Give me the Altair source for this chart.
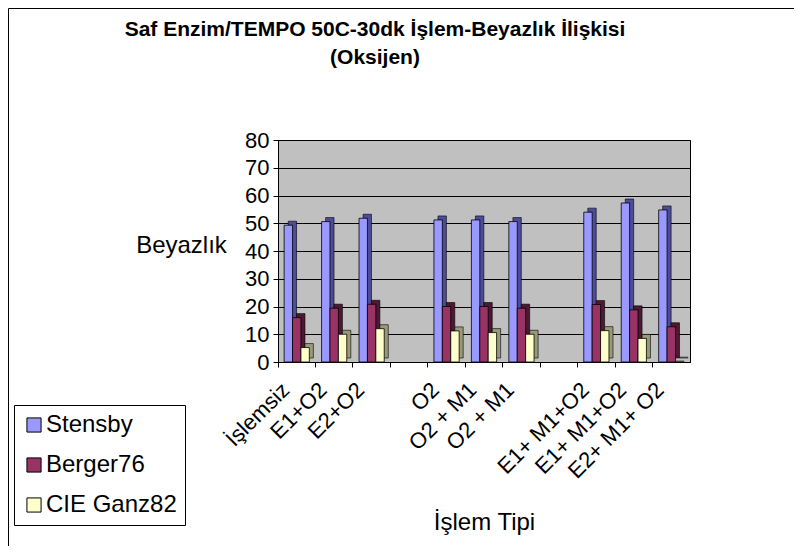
import json
import altair as alt
import pandas as pd

categories = ["İşlemsiz", "E1+O2", "E2+O2", "", "O2", "O2 + M1", "O2  + M1", "",
              "E1+ M1+O2", "E1+ M1+O2", "E2+ M1+ O2"]
series_names = ["Stensby", "Berger76", "CIE Ganz82"]
stensby = [49.3, 50.6, 51.8, None, 51.2, 51.2, 50.6, None, 54.0, 57.3, 54.8]
berger76 = [16.0, 19.4, 20.8, None, 20.0, 20.0, 19.4, None, 20.7, 18.8, 12.7]
cie_ganz82 = [5.2, 10.0, 12.0, None, 11.2, 10.6, 10.0, None, 11.3, 8.5, 0.3]
y_ticks = [0, 10, 20, 30, 40, 50, 60, 70, 80]

front_colors = ["#9999FF", "#993366", "#FFFFCC"]
side_colors = ["#4C4C99", "#4C1933", "#99997A"]

rows = []
for name, vals in zip(series_names, [stensby, berger76, cie_ganz82]):
    for i, v in enumerate(vals):
        if v is not None:
            rows.append({"idx": i, "series": name, "value": v})
df = pd.DataFrame(rows)

FONT = "Liberation Sans"
idx_domain = list(range(len(categories)))
label_expr = json.dumps(categories, ensure_ascii=False) + "[datum.value]"

x_enc = alt.X(
    "idx:O",
    scale=alt.Scale(domain=idx_domain, paddingInner=0, paddingOuter=0),
    axis=alt.Axis(
        title="İşlem Tipi", labelExpr=label_expr, labelAngle=-45, labelAlign="right",
        labelBaseline="middle", labelFontSize=22, labelFont=FONT, labelColor="black",
        labelPadding=19, labelOffset=-11, bandPosition=0, tickColor="black", tickSize=5,
        domainColor="black", grid=False, titleFont=FONT, titleFontSize=24,
        titleFontWeight="normal", titleColor="black", titleY=160, titleBaseline="middle",
        labelOverlap=False,
    ),
)
y_enc = alt.Y(
    "value:Q",
    scale=alt.Scale(domain=[0, 80], nice=False),
    axis=alt.Axis(
        title="Beyazlık", values=y_ticks, labelFontSize=22, labelFont=FONT,
        labelColor="black", tickColor="black", tickSize=5, domainColor="black",
        gridColor="black", gridWidth=1, titleAngle=0, titleX=-97, titleY=105,
        titleAlign="center", titleBaseline="middle", titleFont=FONT, titleFontSize=24,
        titleFontWeight="normal", titleColor="black", labelPadding=4,
    ),
)

base = alt.Chart(df)

side = base.mark_bar(yOffset=-4, stroke="black", strokeWidth=0.6).encode(
    x=x_enc,
    y=y_enc,
    xOffset=alt.XOffset("series:N", sort=series_names,
                        scale=alt.Scale(domain=series_names, paddingInner=0,
                                        paddingOuter=0.73, align=0.83)),
    color=alt.Color("series:N", sort=series_names,
                    scale=alt.Scale(domain=series_names, range=side_colors), legend=None),
)

front = base.mark_bar(stroke="black", strokeWidth=0.8).encode(
    x=x_enc,
    y=y_enc,
    xOffset=alt.XOffset("series:N", sort=series_names,
                        scale=alt.Scale(domain=series_names, paddingInner=0,
                                        paddingOuter=0.73, align=0.5)),
    fill=alt.Fill(
        "series:N", sort=series_names,
        scale=alt.Scale(domain=series_names, range=front_colors),
        legend=alt.Legend(
            title=None, orient="none", legendX=-264, legendY=265,
            strokeColor="black", fillColor="white", padding=8,
            labelFont=FONT, labelFontSize=24, labelColor="black",
            symbolType="square", symbolSize=200, symbolStrokeColor="black",
            symbolStrokeWidth=1, rowPadding=16, labelOffset=0,
            symbolOpacity=1,
        ),
    ),
)

one = pd.DataFrame({"a": [0]})
title1 = alt.Chart(one).mark_text(
    text="Saf Enzim/TEMPO 50C-30dk İşlem-Beyazlık İlişkisi", font=FONT, fontSize=21,
    fontWeight="bold", color="black", align="center", baseline="middle",
).encode(x=alt.value(97), y=alt.value(-110))
title2 = alt.Chart(one).mark_text(
    text="(Oksijen)", font=FONT, fontSize=21, fontWeight="bold", color="black",
    align="center", baseline="middle",
).encode(x=alt.value(97), y=alt.value(-82))
border = alt.Chart(one).mark_rect(fill=None, stroke="black", strokeWidth=1).encode(
    x=alt.value(-269.5), x2=alt.value(518.5), y=alt.value(-131.5), y2=alt.value(408.5)
)

chart = alt.layer(border, side, front, title1, title2).resolve_scale(
    color="independent", fill="independent", xOffset="independent"
).properties(
    width=412, height=222, autosize="none",
    padding={"left": 270, "top": 132, "right": 104, "bottom": 184},
    background="white",
).configure_view(fill="#C0C0C0", stroke="black", strokeWidth=1)

chart.save("out.html", embed_options={"renderer": "svg", "actions": False})
